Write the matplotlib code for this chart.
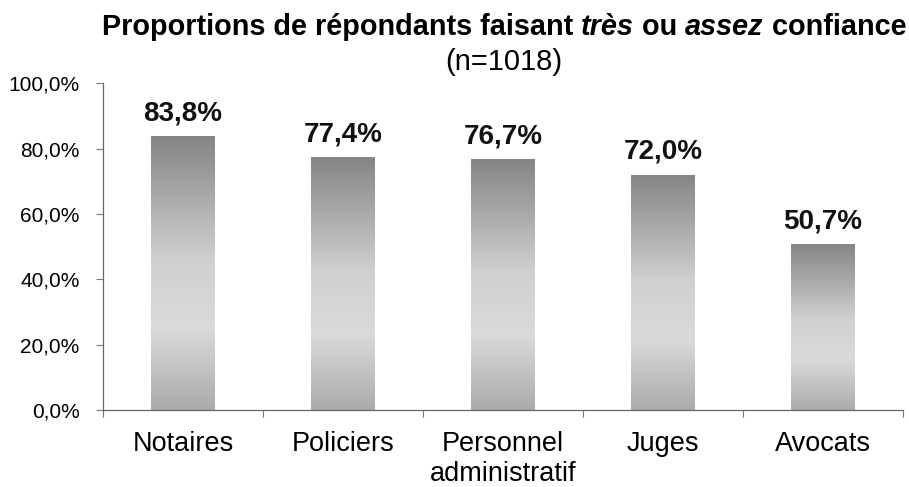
import matplotlib.pyplot as plt
import numpy as np
from matplotlib.colors import LinearSegmentedColormap

plt.rcParams['font.family'] = ['Liberation Sans', 'DejaVu Sans']

categories = ['Notaires', 'Policiers', 'Personnel\nadministratif', 'Juges', 'Avocats']
values = [83.8, 77.4, 76.7, 72.0, 50.7]
yticks = [0, 20, 40, 60, 80, 100]

# grey gradient: dark top, pale lower middle, slightly darker base
cmap = LinearSegmentedColormap.from_list(
    'bar_grad', [(0.0, '#ababab'), (0.3, '#dadada'), (0.55, '#d0d0d0'), (1.0, '#858585')])

fig = plt.figure(figsize=(9.09, 4.87), dpi=100)
ax = fig.add_axes([0.1133, 0.158, 0.880, 0.671])

x = np.arange(len(categories))
bars = ax.bar(x, values, width=0.40, color='none', edgecolor='none', zorder=2)

grad = np.linspace(0, 1, 256).reshape(-1, 1)
for bar in bars:
    x0, w, h = bar.get_x(), bar.get_width(), bar.get_height()
    im = ax.imshow(grad, cmap=cmap, aspect='auto', origin='lower',
                   extent=[x0, x0 + w, 0, h], zorder=2)
    im.set_clip_path(bar)

for xi, v in zip(x, values):
    ax.text(xi, v + 3.0, f'{v:.1f}%'.replace('.', ','), ha='center', va='bottom',
            fontsize=20, fontweight='bold', color='#111111')

ax.set_xlim(-0.5, len(categories) - 0.5)
ax.set_ylim(0, 100)
ax.set_yticks(yticks)
ax.set_yticklabels([f'{t:.1f}%'.replace('.', ',') for t in yticks], fontsize=15)
ax.set_xticks(x)
ax.set_xticklabels(categories, fontsize=19.5)
ax.tick_params(axis='x', length=0, pad=15)
ax.tick_params(axis='y', length=5, width=0.8, color='#777777', pad=12)
ax.set_xticks(np.arange(-0.5, len(categories)), minor=True)
ax.tick_params(axis='x', which='minor', length=5, width=0.8, color='#777777')

for side in ['top', 'right']:
    ax.spines[side].set_visible(False)
for side in ['left', 'bottom']:
    ax.spines[side].set_color('#666666')
    ax.spines[side].set_linewidth(0.9)

# title made of pieces: bold, with "très" and "assez" in bold italic
pieces = [('Proportions de répondants faisant ', 'normal'), ('très', 'italic'),
          (' ou ', 'normal'), ('assez', 'italic'), (' confiance', 'normal')]
renderer = fig.canvas.get_renderer()
texts = []
for s, st in pieces:
    t = fig.text(0, 0.944, s, fontsize=20.8, fontweight='bold', style=st,
                 va='center', ha='left')
    texts.append(t)
widths = [t.get_window_extent(renderer).width for t in texts]
total = sum(widths)
xpos = 504 - total / 2
for t, w in zip(texts, widths):
    t.set_x(xpos / fig.bbox.width)
    xpos += w
fig.text(504 / 909, 0.873, '(n=1018)', fontsize=21, ha='center', va='center')

plt.savefig('out.png', dpi=100, facecolor='white')
